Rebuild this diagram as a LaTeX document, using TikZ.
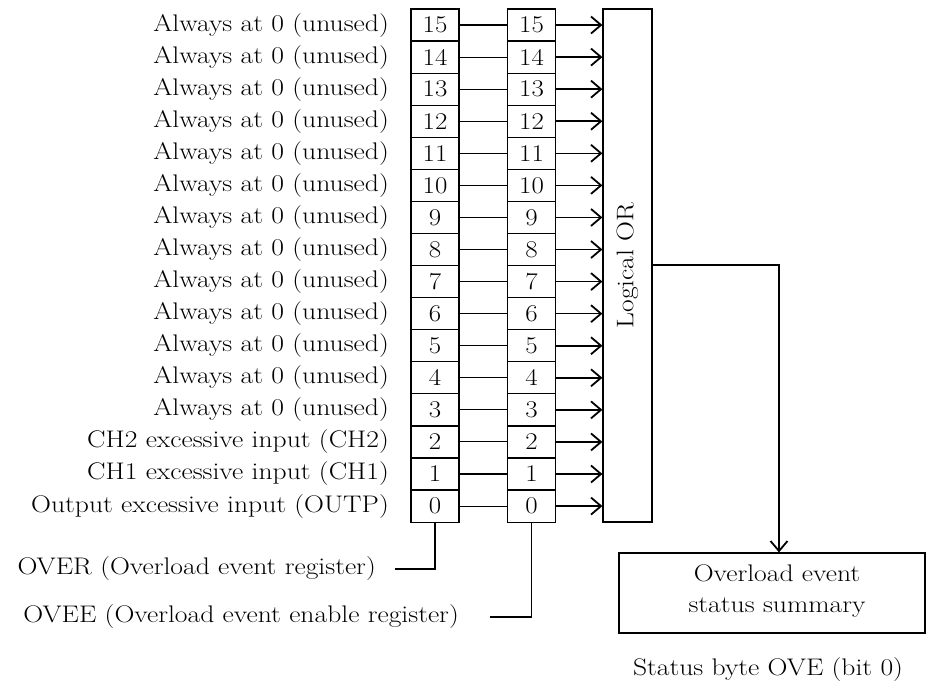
\documentclass[tikz,border=0pt]{standalone}
\usetikzlibrary{arrows.meta,calc}
\begin{document}
\begin{tikzpicture}[x=1pt,y=-1pt,
  txt/.style={font=\fontsize{24}{28}\selectfont, inner sep=0pt, xscale=1.15},
  bitbox/.style={draw, line width=1.2pt, minimum width=48pt, minimum height=32.07pt, inner sep=0pt},
  bitnum/.style={font=\fontsize{24}{28}\selectfont, inner sep=0pt, xscale=1.12},
  link/.style={line width=1.1pt},
  arr/.style={line width=1.6pt, -{Straight Barb[length=10pt,width=17pt,line width=1.8pt]}},
  bigbox/.style={draw, line width=1.2pt, inner sep=0pt}
]
\useasboundingbox (0,0) rectangle (929,684);
% Logical OR box
\node[bigbox, minimum width=49pt, minimum height=513pt] (or) at (627.5,265.5) {};
\node[font=\fontsize{24}{28}\selectfont, inner sep=0pt, rotate=90, xscale=1.15] (ortext) at (or.center) {Logical OR};
% bits
\foreach \i in {0,...,15}{
  \pgfmathsetmacro{\yy}{9+32.07*(15-\i)+16.03}
  \node[bitbox] (l\i) at (435,\yy) {};
  \node[bitnum] (ln\i) at (l\i.center) {\i};
  \node[bitbox] (r\i) at (531.5,\yy) {};
  \node[bitnum] (rn\i) at (r\i.center) {\i};
  \draw[link] (l\i.east) -- (r\i.west);
  \draw[arr] (r\i.east) -- (r\i.east -| or.west);
}
\foreach \i in {3,...,15}{
  \node[txt, anchor=east] (lab\i) at (389,{9+32.07*(15-\i)+16.03}) {Always at 0 (unused)};
}
\node[txt, anchor=east] (lab2) at (389,{9+32.07*13+16.03}) {CH2 excessive input (CH2)};
\node[txt, anchor=east] (lab1) at (389,{9+32.07*14+16.03}) {CH1 excessive input (CH1)};
\node[txt, anchor=east] (lab0) at (389,{9+32.07*15+16.03}) {Output excessive input (OUTP)};
% summary
\node[bigbox, minimum width=306pt, minimum height=80pt] (sum) at (772,593) {};
\node[txt, align=center, font=\fontsize{24}{31}\selectfont] (sumtext) at (777,591) {Overload event\\status summary};
\coordinate (bend) at (779,265);
\draw[arr] (or.east |- bend) -- (bend) -- (bend |- sum.north);
\node[txt] (stat) at (768,670) {Status byte OVE (bit 0)};
% registers
\node[txt, anchor=east] (over) at (376,569) {OVER (Overload event register)};
\coordinate (overend) at (395,569);
\draw[link, line width=1.3pt] (l0.south) |- (overend);
\node[txt, anchor=east] (ovee) at (459,617) {OVEE (Overload event enable register)};
\coordinate (oveeend) at (490,617);
\draw[link, line width=1.3pt] (r0.south) |- (oveeend);
\end{tikzpicture}
\end{document}
